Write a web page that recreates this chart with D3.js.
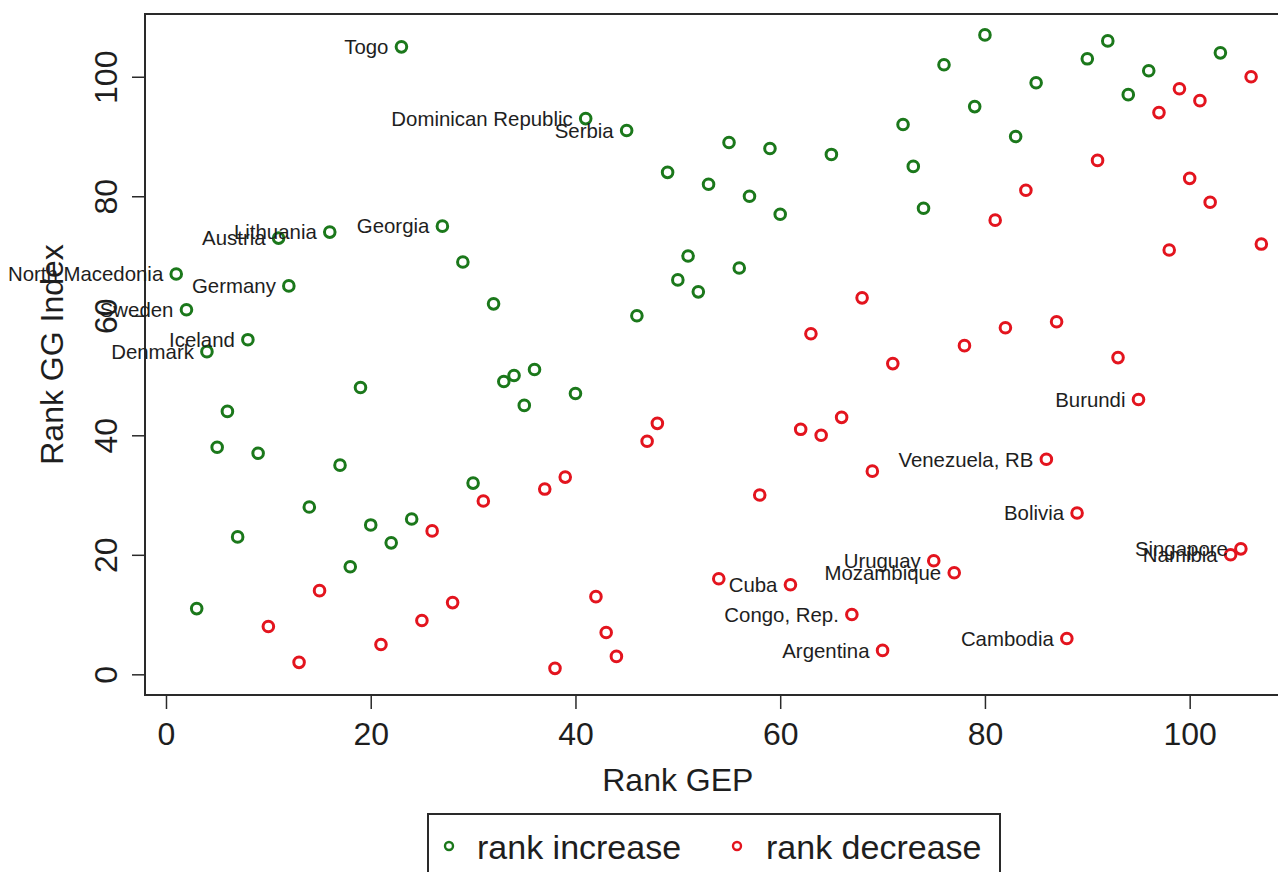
<!DOCTYPE html>
<html>
<head>
<meta charset="utf-8">
<script src="https://cdn.jsdelivr.net/npm/d3@7"></script>
<style>
  html, body { margin: 0; padding: 0; background: #fff; }
  svg { display: block; }
  text { font-family: "Liberation Sans", Arial, Helvetica, sans-serif; fill: #1e1e1e; }
</style>
</head>
<body>
<svg id="chart" width="1278" height="872"></svg>
<script>
// ---- data ----
const increaseGEP = [1,2,3,4,5,6,7,8,9,11,12,14,16,17,18,19,20,22,23,24,27,29,30,32,33,34,35,36,40,41,45,46,49,50,51,52,53,55,56,57,59,60,65,72,73,74,76,79,80,83,85,90,92,94,96,103];
const increaseGG  = [67,61,11,54,38,44,23,56,37,73,65,28,74,35,18,48,25,22,105,26,75,69,32,62,49,50,45,51,47,93,91,60,84,66,70,64,82,89,68,80,88,77,87,92,85,78,102,95,107,90,99,103,106,97,101,104];

const decreaseGEP = [10,13,15,21,25,26,28,31,37,38,39,42,43,44,47,48,54,58,61,62,63,64,66,67,68,69,70,71,75,77,78,81,82,84,86,87,88,89,91,93,95,97,98,99,100,101,102,104,105,106,107];
const decreaseGG  = [8,2,14,5,9,24,12,29,31,1,33,13,7,3,39,42,16,30,15,41,57,40,43,10,63,34,4,52,19,17,55,76,58,81,36,59,6,27,86,53,46,94,71,98,83,96,79,20,21,100,72];

const labelCountry = ["Togo","Dominican Republic","Serbia","Georgia","Lithuania","Austria","North Macedonia","Germany","Sweden","Iceland","Denmark","Burundi","Venezuela, RB","Bolivia","Uruguay","Mozambique","Cuba","Congo, Rep.","Argentina","Cambodia","Singapore","Namibia"];
const labelGEP = [23,41,45,27,16,11,1,12,2,8,4,95,86,89,75,77,61,67,70,88,105,104];
const labelGG  = [105,93,91,75,74,73,67,65,61,56,54,46,36,27,19,17,15,10,4,6,21,20];

const xTicks = [0,20,40,60,80,100];
const yTicks = [0,20,40,60,80,100];
const legendLabels = ["rank increase","rank decrease"];
const xTitle = "Rank GEP";
const yTitle = "Rank GG Index";

// ---- layout ----
const GREEN = "#1b781b", RED = "#e3141e";
const svg = d3.select("#chart");
const x = d3.scaleLinear().domain([-2.05, 109.8]).range([145, 1290]);
const y = d3.scaleLinear().domain([-3.46, 110.5]).range([695, 14]);

// frame
svg.append("rect")
  .attr("x", x.range()[0]).attr("y", y.range()[1])
  .attr("width", x.range()[1] - x.range()[0])
  .attr("height", y.range()[0] - y.range()[1])
  .attr("fill", "none").attr("stroke", "#2a2a2a").attr("stroke-width", 2);

// x axis
const xAxis = d3.axisBottom(x).tickValues(xTicks).tickSize(14).tickPadding(13).tickSizeOuter(0);
const gx = svg.append("g").attr("transform", `translate(0,695)`).call(xAxis);
gx.select(".domain").attr("d", `M${x(0)},0H${x(100)}`).attr("stroke", "#2a2a2a").attr("stroke-width", 2);
gx.selectAll(".tick line").attr("stroke", "#2a2a2a").attr("stroke-width", 1.5);
gx.selectAll(".tick text").attr("font-size", 32).attr("fill", "#1e1e1e")
  .attr("font-family", "'Liberation Sans', Arial, sans-serif");

// y axis
const yAxis = d3.axisLeft(y).tickValues(yTicks).tickSize(13).tickSizeOuter(0);
const gy = svg.append("g").attr("transform", `translate(145,0)`).call(yAxis);
gy.select(".domain").attr("d", `M0,${y(0)}V${y(100)}`).attr("stroke", "#2a2a2a").attr("stroke-width", 2);
gy.selectAll(".tick line").attr("stroke", "#2a2a2a").attr("stroke-width", 1.5);
gy.selectAll(".tick text")
  .attr("font-size", 32).attr("fill", "#1e1e1e")
  .attr("font-family", "'Liberation Sans', Arial, sans-serif")
  .attr("x", null).attr("dy", null)
  .attr("text-anchor", "middle")
  .attr("transform", "translate(-28,0) rotate(-90)");

// axis titles
svg.append("text").attr("x", (x(0) + x(100)) / 2 + 0).attr("y", 791)
  .attr("text-anchor", "middle").attr("font-size", 32).text(xTitle);
svg.append("text")
  .attr("transform", `translate(63,${(14 + 695) / 2}) rotate(-90)`)
  .attr("text-anchor", "middle").attr("font-size", 32).text(yTitle);

// points
function drawPoints(gep, gg, color) {
  svg.append("g").selectAll("circle")
    .data(gep.map((d, i) => [d, gg[i]]))
    .join("circle")
    .attr("cx", d => x(d[0])).attr("cy", d => y(d[1]))
    .attr("r", 5.3)
    .attr("fill", "none").attr("stroke", color).attr("stroke-width", 3);
}
drawPoints(increaseGEP, increaseGG, GREEN);
drawPoints(decreaseGEP, decreaseGG, RED);

// labels (to the left of the point)
svg.append("g").selectAll("text")
  .data(labelCountry.map((c, i) => ({ c, gx: labelGEP[i], gy: labelGG[i] })))
  .join("text")
  .attr("x", d => x(d.gx) - 13).attr("y", d => y(d.gy))
  .attr("dy", "0.36em")
  .attr("text-anchor", "end").attr("font-size", 20.4)
  .text(d => d.c);

// legend
const lg = svg.append("g");
lg.append("rect").attr("x", 428).attr("y", 814).attr("width", 572).attr("height", 100)
  .attr("fill", "#fff").attr("stroke", "#2a2a2a").attr("stroke-width", 2);
const legendItems = [
  { label: legendLabels[0], color: GREEN, mx: 449, tx: 477 },
  { label: legendLabels[1], color: RED, mx: 737, tx: 766 }
];
legendItems.forEach(it => {
  lg.append("circle").attr("cx", it.mx).attr("cy", 846).attr("r", 4)
    .attr("fill", "none").attr("stroke", it.color).attr("stroke-width", 2.4);
  lg.append("text").attr("x", it.tx).attr("y", 859).attr("font-size", 34).text(it.label);
});
</script>
</body>
</html>
